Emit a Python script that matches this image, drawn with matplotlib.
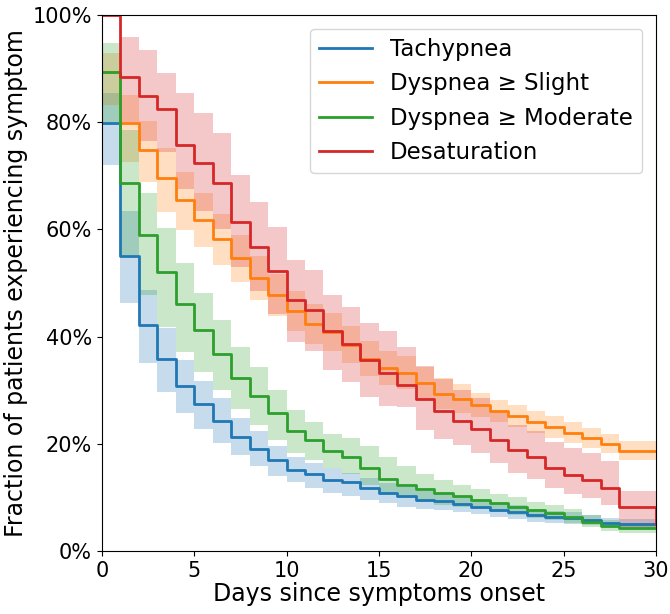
import numpy as np
import matplotlib
matplotlib.use('Agg')
import matplotlib.pyplot as plt
from matplotlib.ticker import PercentFormatter

# day of each step (values hold until the next day)
days = list(range(31))

# Tachypnea
tach = [79.9, 55.0, 42.1, 35.9, 30.7, 27.4, 24.2, 21.2, 19.1, 16.9,
        15.2, 14.4, 13.3, 12.8, 11.8, 10.9, 10.2, 9.6, 9.3, 8.8,
        8.3, 7.6, 7.3, 6.7, 6.4, 6.1, 5.8, 5.3, 5.1, 5.1, 5.1]
tach_hi = [85.4, 63.4, 48.7, 41.6, 35.6, 31.8, 28.5, 24.8, 22.3, 19.5,
           17.6, 16.5, 15.4, 14.6, 13.6, 12.6, 11.9, 11.2, 10.8, 10.3,
           9.7, 8.9, 8.6, 7.9, 7.5, 7.2, 6.8, 6.2, 5.9, 5.9, 5.9]
tach_lo = [72.0, 46.2, 35.1, 29.7, 25.8, 22.8, 20.1, 17.9, 15.8, 14.0,
           12.8, 11.7, 10.8, 10.3, 9.6, 8.9, 8.3, 7.9, 7.6, 7.3,
           6.9, 6.3, 6.0, 5.5, 5.3, 5.0, 4.8, 4.4, 4.3, 4.3, 4.3]

# Dyspnea >= Slight
dysp_s = [89.4, 79.9, 74.8, 69.5, 65.5, 61.8, 58.2, 54.7, 51.0, 47.8,
          44.8, 42.4, 40.9, 38.5, 35.9, 34.1, 33.3, 31.4, 29.3, 28.4,
          27.2, 26.1, 25.2, 24.1, 23.1, 22.1, 21.0, 20.0, 18.7, 18.7, 18.7]
dysp_s_hi = [93.0, 85.1, 80.3, 75.2, 70.8, 66.8, 62.8, 59.0, 55.0, 51.6,
             48.5, 46.0, 44.4, 41.9, 39.2, 37.3, 36.4, 34.4, 32.2, 31.1,
             29.5, 28.2, 27.2, 26.2, 25.1, 24.0, 22.9, 21.8, 20.6, 20.6, 20.6]
dysp_s_lo = [83.2, 72.6, 68.8, 63.3, 59.9, 56.8, 53.4, 50.2, 46.8, 43.8,
             41.0, 38.7, 37.4, 35.1, 32.7, 30.9, 30.2, 28.4, 26.4, 25.7,
             25.0, 24.1, 23.1, 22.0, 21.1, 20.2, 19.2, 18.2, 16.9, 16.9, 16.9]

# Dyspnea >= Moderate
dysp_m = [89.4, 68.6, 59.0, 52.0, 46.0, 41.2, 36.7, 32.2, 28.9, 25.7,
          22.3, 20.7, 18.6, 17.5, 15.4, 13.5, 12.4, 11.5, 10.8, 10.2,
          9.6, 8.9, 8.3, 7.6, 7.1, 6.4, 5.5, 4.7, 4.2, 4.2, 4.2]
dysp_m_hi = [94.7, 78.5, 66.7, 60.2, 53.7, 48.1, 43.1, 38.0, 34.4, 30.0,
             26.3, 24.1, 21.9, 21.0, 19.5, 17.6, 15.8, 14.3, 13.2, 12.4,
             11.5, 10.7, 10.0, 9.2, 8.6, 7.8, 6.8, 5.8, 5.2, 5.2, 5.2]
dysp_m_lo = [79.5, 55.2, 47.8, 41.8, 37.2, 33.4, 30.0, 26.4, 23.5, 20.7,
             18.2, 17.0, 15.4, 14.3, 12.3, 10.6, 9.8, 9.1, 8.6, 8.2,
             7.8, 7.3, 6.8, 6.2, 5.8, 5.2, 4.4, 3.7, 3.3, 3.3, 3.3]

# Desaturation
desat = [100.0, 88.4, 84.9, 82.4, 75.7, 72.4, 68.6, 61.3, 56.8, 52.3,
         46.9, 45.0, 41.0, 38.7, 35.7, 33.3, 31.0, 28.4, 26.2, 24.2,
         22.7, 20.8, 18.8, 17.6, 15.4, 14.2, 13.2, 11.7, 8.3, 8.3, 5.0]
desat_hi = [100.0, 95.8, 93.5, 89.1, 85.4, 81.8, 77.9, 70.1, 65.2, 60.4,
            54.3, 52.4, 47.8, 45.5, 42.5, 41.0, 38.0, 34.5, 32.0, 30.0,
            28.5, 26.0, 23.5, 22.3, 20.4, 19.2, 18.3, 16.7, 11.2, 11.2, 11.2]
desat_lo = [100.0, 80.0, 76.5, 74.5, 67.5, 63.5, 60.0, 53.0, 48.5, 44.3,
            39.0, 37.3, 33.7, 31.6, 28.8, 27.0, 26.9, 22.6, 20.9, 19.8,
            18.2, 16.4, 14.5, 13.5, 11.7, 10.7, 9.9, 8.6, 4.5, 4.5, 4.5]

series = [
    ('Tachypnea', tach, tach_lo, tach_hi, 'tab:blue'),
    ('Dyspnea \u2265 Slight', dysp_s, dysp_s_lo, dysp_s_hi, 'tab:orange'),
    ('Dyspnea \u2265 Moderate', dysp_m, dysp_m_lo, dysp_m_hi, 'tab:green'),
    ('Desaturation', desat, desat_lo, desat_hi, 'tab:red'),
]

fig = plt.figure(figsize=(6.7, 6.14), dpi=100)
ax = fig.add_axes([0.152, 0.1026, 0.827, 0.873])

for name, y, lo, hi, col in series:
    ax.fill_between(days, lo, hi, step='post', color=col, alpha=0.25, linewidth=0)
    ax.step(days, y, where='post', color=col, linewidth=2, label=name)

ax.set_xlim(0, 30)
ax.set_ylim(0, 100)
ax.set_xticks([0, 5, 10, 15, 20, 25, 30])
ax.set_yticks([0, 20, 40, 60, 80, 100])
ax.yaxis.set_major_formatter(PercentFormatter(100, decimals=0))
ax.tick_params(labelsize=15)
ax.set_xlabel('Days since symptoms onset', fontsize=17, labelpad=1)
ax.set_ylabel('Fraction of patients experiencing symptom', fontsize=17, labelpad=3)
ax.legend(loc='upper right', fontsize=16.5, handlelength=2.3,
          borderaxespad=0.6)

fig.savefig('out.png', dpi=100)
